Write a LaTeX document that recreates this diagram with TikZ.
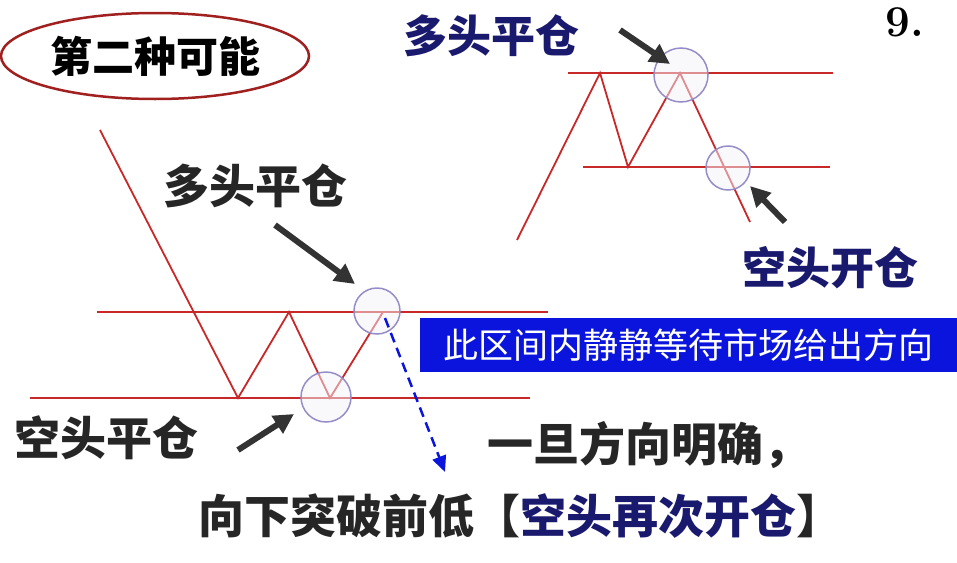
\documentclass[tikz,border=0pt]{standalone}
\usepackage{fontspec}
\newfontfamily\cjk{Noto Sans CJK SC}
\usetikzlibrary{shapes.geometric,arrows.meta}
\definecolor{lred}{RGB}{200,40,40}
\definecolor{navy}{RGB}{25,25,110}
\definecolor{circ}{RGB}{150,140,200}
\definecolor{bbox}{RGB}{10,20,220}
\tikzset{
 lbl/.style={font=\cjk\bfseries\fontsize{46}{48}\selectfont, text=black!85},
 nlbl/.style={font=\cjk\bfseries\fontsize{44}{46}\selectfont, text=navy},
 rl/.style={draw=lred, line width=1.8pt},
 cir/.style={circle, draw=circ, line width=1.5pt, fill=circ!10, fill opacity=0.5, inner sep=0pt},
 bar/.style={-{Triangle[length=20pt,width=20pt]}, line width=6pt, draw=black!80}
}
\begin{document}
\begin{tikzpicture}[x=1pt,y=-1pt]
\useasboundingbox (0,0) rectangle (957,562);
% ellipse
\node[ellipse, draw=lred!80!black, line width=2.5pt, minimum width=308, minimum height=86, inner sep=0pt, font=\cjk\bfseries\fontsize{42}{44}\selectfont] (ell) at (155,56) {第二种可能};
\node[font=\bfseries\fontsize{44}{46}\selectfont] (nine) at (905,22) {9.};
% top right chart
\coordinate (t1) at (568,73); \coordinate (t2) at (833,73);
\coordinate (b1) at (583,167); \coordinate (b2) at (830,167);
\draw[rl] (t1) -- (t2); \draw[rl] (b1) -- (b2);
\coordinate (z0) at (517,240); \coordinate (z1) at (600,73); \coordinate (z2) at (628,167);
\coordinate (z3) at (680,73); \coordinate (z4) at (750,222);
\draw[rl] (z0) -- (z1) -- (z2) -- (z3) -- (z4);
\node[cir, minimum size=54] (c1) at (681,75) {};
\node[cir, minimum size=44] (c2) at (728,168) {};
\node[nlbl, anchor=west] (tl1) at (400,36) {多头平仓};
\node[nlbl] (tl2) at (830,268) {空头开仓};
\coordinate (a1s) at (620,30); \coordinate (a1e) at (670,64);
\draw[bar] (a1s) -- (a1e);
\coordinate (a2s) at (785,222); \coordinate (a2e) at (750,186);
\draw[bar] (a2s) -- (a2e);
% bottom chart
\node[fill=bbox, minimum width=537, minimum height=54, inner sep=0pt, anchor=north west, text=white, font=\cjk\fontsize{35}{37}\selectfont] (box) at (420,318) {此区间内静静等待市场给出方向};
\coordinate (u1) at (97,312); \coordinate (u2) at (548,312);
\coordinate (l1) at (30,398); \coordinate (l2) at (530,398);
\draw[rl] (u1) -- (u2); \draw[rl] (l1) -- (l2);
\coordinate (y0) at (100,130); \coordinate (y1) at (238,398); \coordinate (y2) at (289,312);
\coordinate (y3) at (330,398); \coordinate (y4) at (383,312);
\draw[rl] (y0) -- (y1) -- (y2) -- (y3) -- (y4);
\node[cir, minimum size=46] (c3) at (377,311) {};
\node[cir, minimum size=50] (c4) at (326,397) {};
\coordinate (d0) at (385,318); \coordinate (d1) at (445,472);
\draw[bbox, line width=2.5pt, dash pattern=on 10pt off 6pt, -{Triangle[length=16pt,width=14pt]}] (d0) -- (d1);
\node[lbl] (ml) at (255,186) {多头平仓};
\coordinate (a3s) at (275,225); \coordinate (a3e) at (355,284);
\draw[bar] (a3s) -- (a3e);
\node[lbl] (sl) at (106,438) {空头平仓};
\coordinate (a4s) at (238,450); \coordinate (a4e) at (294,414);
\draw[bar] (a4s) -- (a4e);
\node[lbl, anchor=west] (t3) at (484,445) {一旦方向明确，};
\node[lbl, anchor=west] (t4) at (195,516) {向下突破前低【\textcolor{navy}{空头再次开仓}】};
\end{tikzpicture}
\end{document}
